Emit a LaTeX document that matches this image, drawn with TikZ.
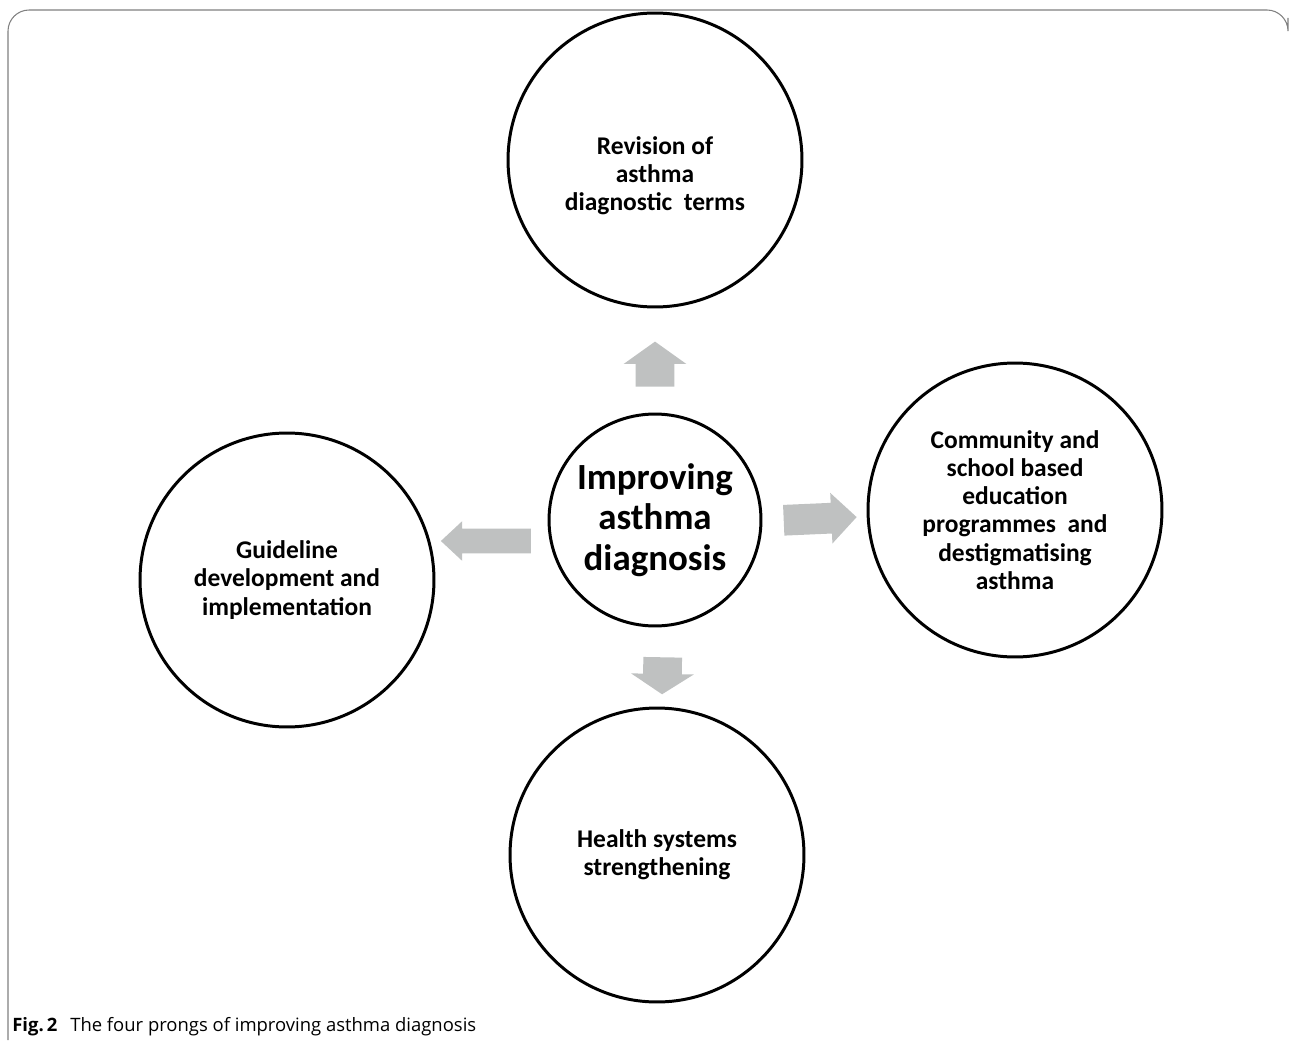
\documentclass[tikz,border=0pt]{standalone}
\usepackage{fontspec}
\setmainfont{Carlito}
\newfontfamily\capfont{Open Sans}
\usepackage{tikz}
\usetikzlibrary{shapes.arrows}

\definecolor{arrowgray}{RGB}{191,193,193}

\tikzset{
  prong/.style={circle, draw=black, line width=1.7pt, minimum size=5.88cm, inner sep=0pt,
    align=center, font=\fontsize{14.5}{16}\selectfont\bfseries},
  hub/.style={prong, minimum size=4.24cm, font=\fontsize{21}{23}\selectfont\bfseries},
  push/.style={single arrow, fill=arrowgray, draw=none, inner xsep=0pt, minimum width=0pt},
}

\begin{document}
\begin{tikzpicture}[x=0.02cm, y=-0.02cm]
          \useasboundingbox (0,0) rectangle (1290,1044);
          % frame
          \draw [gray, line width=0.6pt, rounded corners=12] (8,1040) -- (8,10) -- (1288,10) -- (1288,18);
          % circles
          \node [hub] (hub) at (655,520) {Improving\\asthma\\diagnosis};
          \node [prong] (rev) at (655,160) {};
          \node [align=center, font=\fontsize{14.5}{16}\selectfont\bfseries] (revtext) at (655,176) {Revision of\\asthma\\diagnostic~~terms};
          \node [prong] (guide) at (287,580) {Guideline\\development and\\implementation};
          \node [prong] (comm) at (1015,510) {Community and\\school based\\education\\programmes~~and\\destigmatising\\asthma};
          \node [prong] (health) at (657,855) {Health systems\\strengthening};
          % block arrows
          \node [push, rotate=90, minimum height=0.9cm, inner ysep=0.38cm,
                 single arrow head extend=0.24cm, single arrow tip angle=109] (toRev) at (655,371) {};
          \node [push, rotate=180, minimum height=1.8cm, inner ysep=0.24cm,
                 single arrow head extend=0.15cm, single arrow tip angle=86] (toGuide) at (492.5,541) {};
          \node [push, rotate=2.5, minimum height=1.46cm, inner ysep=0.3cm,
                 single arrow head extend=0.2cm, single arrow tip angle=90] (toComm) at (812.5,519) {};
          \node [push, rotate=-91, minimum height=0.74cm, inner ysep=0.38cm,
                 single arrow head extend=0.24cm, single arrow tip angle=114] (toHealth) at (662.5,669.5) {};
          % caption
          \node [anchor=base west, inner sep=0pt, font=\capfont\fontsize{10.5}{13}\selectfont] (cap) at (12,1031)
            {\textbf{Fig.\,2}\hspace{0.7em}The four prongs of improving asthma diagnosis};
        \end{tikzpicture}
\end{document}
